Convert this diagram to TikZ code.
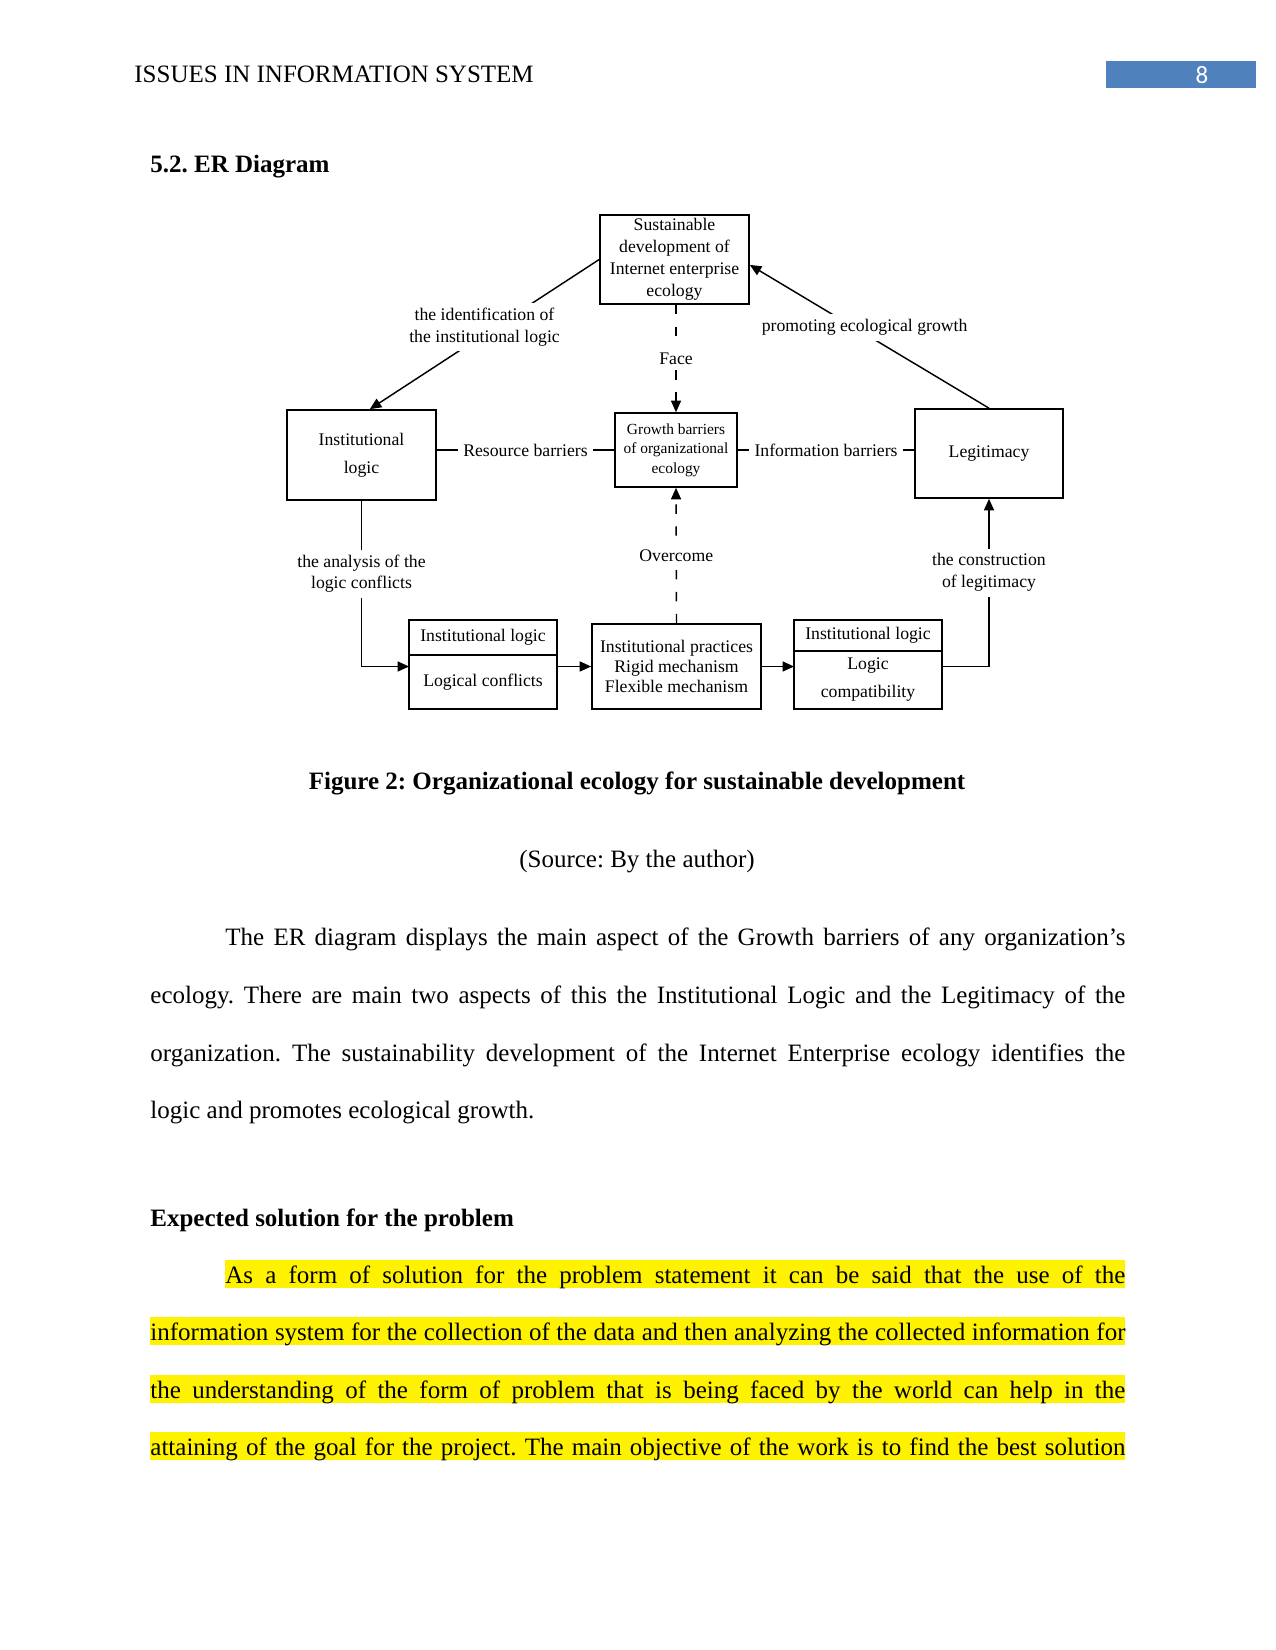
\documentclass[tikz,border=0pt]{standalone}
\usepackage{fontspec}
\setmainfont{Liberation Serif}
\newfontfamily\pagenumfont{Carlito}
\usepackage{tikz}
\usetikzlibrary{calc,arrows,positioning}
\usetikzlibrary{arrows.meta}
\definecolor{pageblue}{RGB}{79,129,189}
\frenchspacing
\tikzset{
ent_box/.style={rectangle, draw, line width=0.8pt, align=center, inner sep=1pt, font=\fontsize{8.5}{10.6}\selectfont},
split_part/.style={rectangle, draw, line width=0.8pt, align=center, inner sep=1pt, outer sep=0pt, minimum width=71pt, font=\fontsize{8.5}{13.4}\selectfont},
conn_line/.style={line width=0.7pt},
flow/.style={conn_line, -{Triangle[length=5.5pt,width=4.8pt]}},
dash_flow/.style={flow, dash pattern=on 4.5pt off 6pt},
link_label/.style={fill=white, align=center, inner sep=2.5pt, font=\fontsize{8.5}{10.4}\selectfont},
body_line/.style={anchor=base west, inner sep=0pt, font=\fontsize{12}{14}\selectfont},
hl_line/.style={body_line, fill=yellow, text height=11pt, text depth=2.6pt},
page_box/.style={rectangle, fill=pageblue, minimum width=72pt, minimum height=13pt, inner sep=0pt}
}

\begin{document}
\begin{tikzpicture}[x=0.48pt, y=-0.48pt]
    \useasboundingbox (0,0) rectangle (1275,1650);
    % page head
    \node[body_line] (head) at (134,83) {ISSUES IN INFORMATION SYSTEM};
    \node[page_box] (pbox) at (1181,74.5) {};
    \node[inner sep=0pt, text=white, font=\pagenumfont\fontsize{12}{14}\selectfont] (pnum) at (1202,75) {8};
    \node[body_line, font=\fontsize{12}{14}\selectfont\bfseries] (sec) at (150,172.5) {5.2. ER Diagram};

    % diagram
    \node[ent_box, minimum width=71.5pt, minimum height=42.7pt] (sus) at (674.5,259.5) {Sustainable\\development of\\Internet enterprise\\ecology};
    \node[ent_box, minimum width=71.5pt, minimum height=43.2pt, font=\fontsize{8.5}{13.4}\selectfont] (inst) at (361.5,455) {Institutional\\logic};
    \node[ent_box, minimum width=58.6pt, minimum height=35.5pt, font=\fontsize{7.4}{9.3}\selectfont] (grow) at (676,450) {Growth barriers\\of organizational\\ecology};
    \node[ent_box, minimum width=71pt, minimum height=42.7pt] (leg) at (989,453.5) {Legitimacy};
    \node[split_part, minimum height=16.8pt] (ltop) at (483,637.5) {Institutional logic};
    \node[split_part, minimum height=25.9pt] (lbot) [below=0 of ltop] {Logical conflicts};
    \node[ent_box, minimum width=81.1pt, minimum height=40.8pt, font=\fontsize{8.5}{9.8}\selectfont] (mid) at (676.5,666.5) {Institutional practices\\Rigid mechanism\\Flexible mechanism};
    \node[split_part, minimum height=14.9pt] (rtop) at (868,635.5) {Institutional logic};
    \node[split_part, minimum height=27.8pt] (rbot) [below=0 of rtop] {Logic\\compatibility};

    \draw[flow] (sus.west) -- node[link_label, pos=0.5, yshift=3.5pt] {the identification of\\the institutional logic} ([xshift=4pt]inst.north);
    \draw[flow] (leg.north) -- node[link_label, pos=0.52, yshift=2.9pt] {promoting ecological growth} ([yshift=-2.6pt]sus.east);
    \draw[dash_flow] (grow.north |- sus.south) -- node[link_label] {Face} (grow.north);
    \draw[dash_flow] (mid.north) -- node[link_label] {Overcome} (grow.south);
    \draw[conn_line] (inst.east |- grow.west) -- node[link_label] {Resource barriers} (grow.west);
    \draw[conn_line] (grow.east) -- node[link_label] {Information barriers} (leg.west |- grow.east);
    \draw[flow] (inst.south) |- node[link_label, pos=0.22] {the analysis of the\\logic conflicts} (lbot.west |- mid.west);
    \draw[flow] (lbot.east |- mid.west) -- (mid.west);
    \draw[flow] (mid.east) -- (rbot.west |- mid.east);
    \draw[flow] (rbot.east |- mid.east) -| node[link_label, pos=0.78] {the construction\\of legitimacy} (leg.south);

    % caption
    \node[anchor=base, inner sep=0pt, font=\fontsize{12}{14}\selectfont\bfseries] (cap) at (637,789) {Figure 2: Organizational ecology for sustainable development};
    \node[anchor=base, inner sep=0pt, font=\fontsize{12}{14}\selectfont] (src) at (637,867) {(Source: By the author)};

    % text
    \node[body_line] (p1a) at (225,945) {\makebox[432pt][s]{The ER diagram displays the main aspect of the Growth barriers of any organization’s}};
    \node[body_line] (p1b) at (150,1003) {\makebox[468pt][s]{ecology. There are main two aspects of this the Institutional Logic and the Legitimacy of the}};
    \node[body_line] (p1c) at (150,1061) {\makebox[468pt][s]{organization. The sustainability development of the Internet Enterprise ecology identifies the}};
    \node[body_line] (p1d) at (150,1118) {logic and promotes ecological growth.};

    \node[body_line, font=\fontsize{12}{14}\selectfont\bfseries] (sol) at (150,1226) {Expected solution for the problem};

    \node[hl_line] (p2a) at (225,1283) {\makebox[432pt][s]{As a form of solution for the problem statement it can be said that the use of the}};
    \node[hl_line] (p2b) at (150,1340) {\makebox[468pt][s]{information system for the collection of the data and then analyzing the collected information for}};
    \node[hl_line] (p2c) at (150,1398) {\makebox[468pt][s]{the understanding of the form of problem that is being faced by the world can help in the}};
    \node[hl_line] (p2d) at (150,1455) {\makebox[468pt][s]{attaining of the goal for the project. The main objective of the work is to find the best solution}};
\end{tikzpicture}
\end{document}
